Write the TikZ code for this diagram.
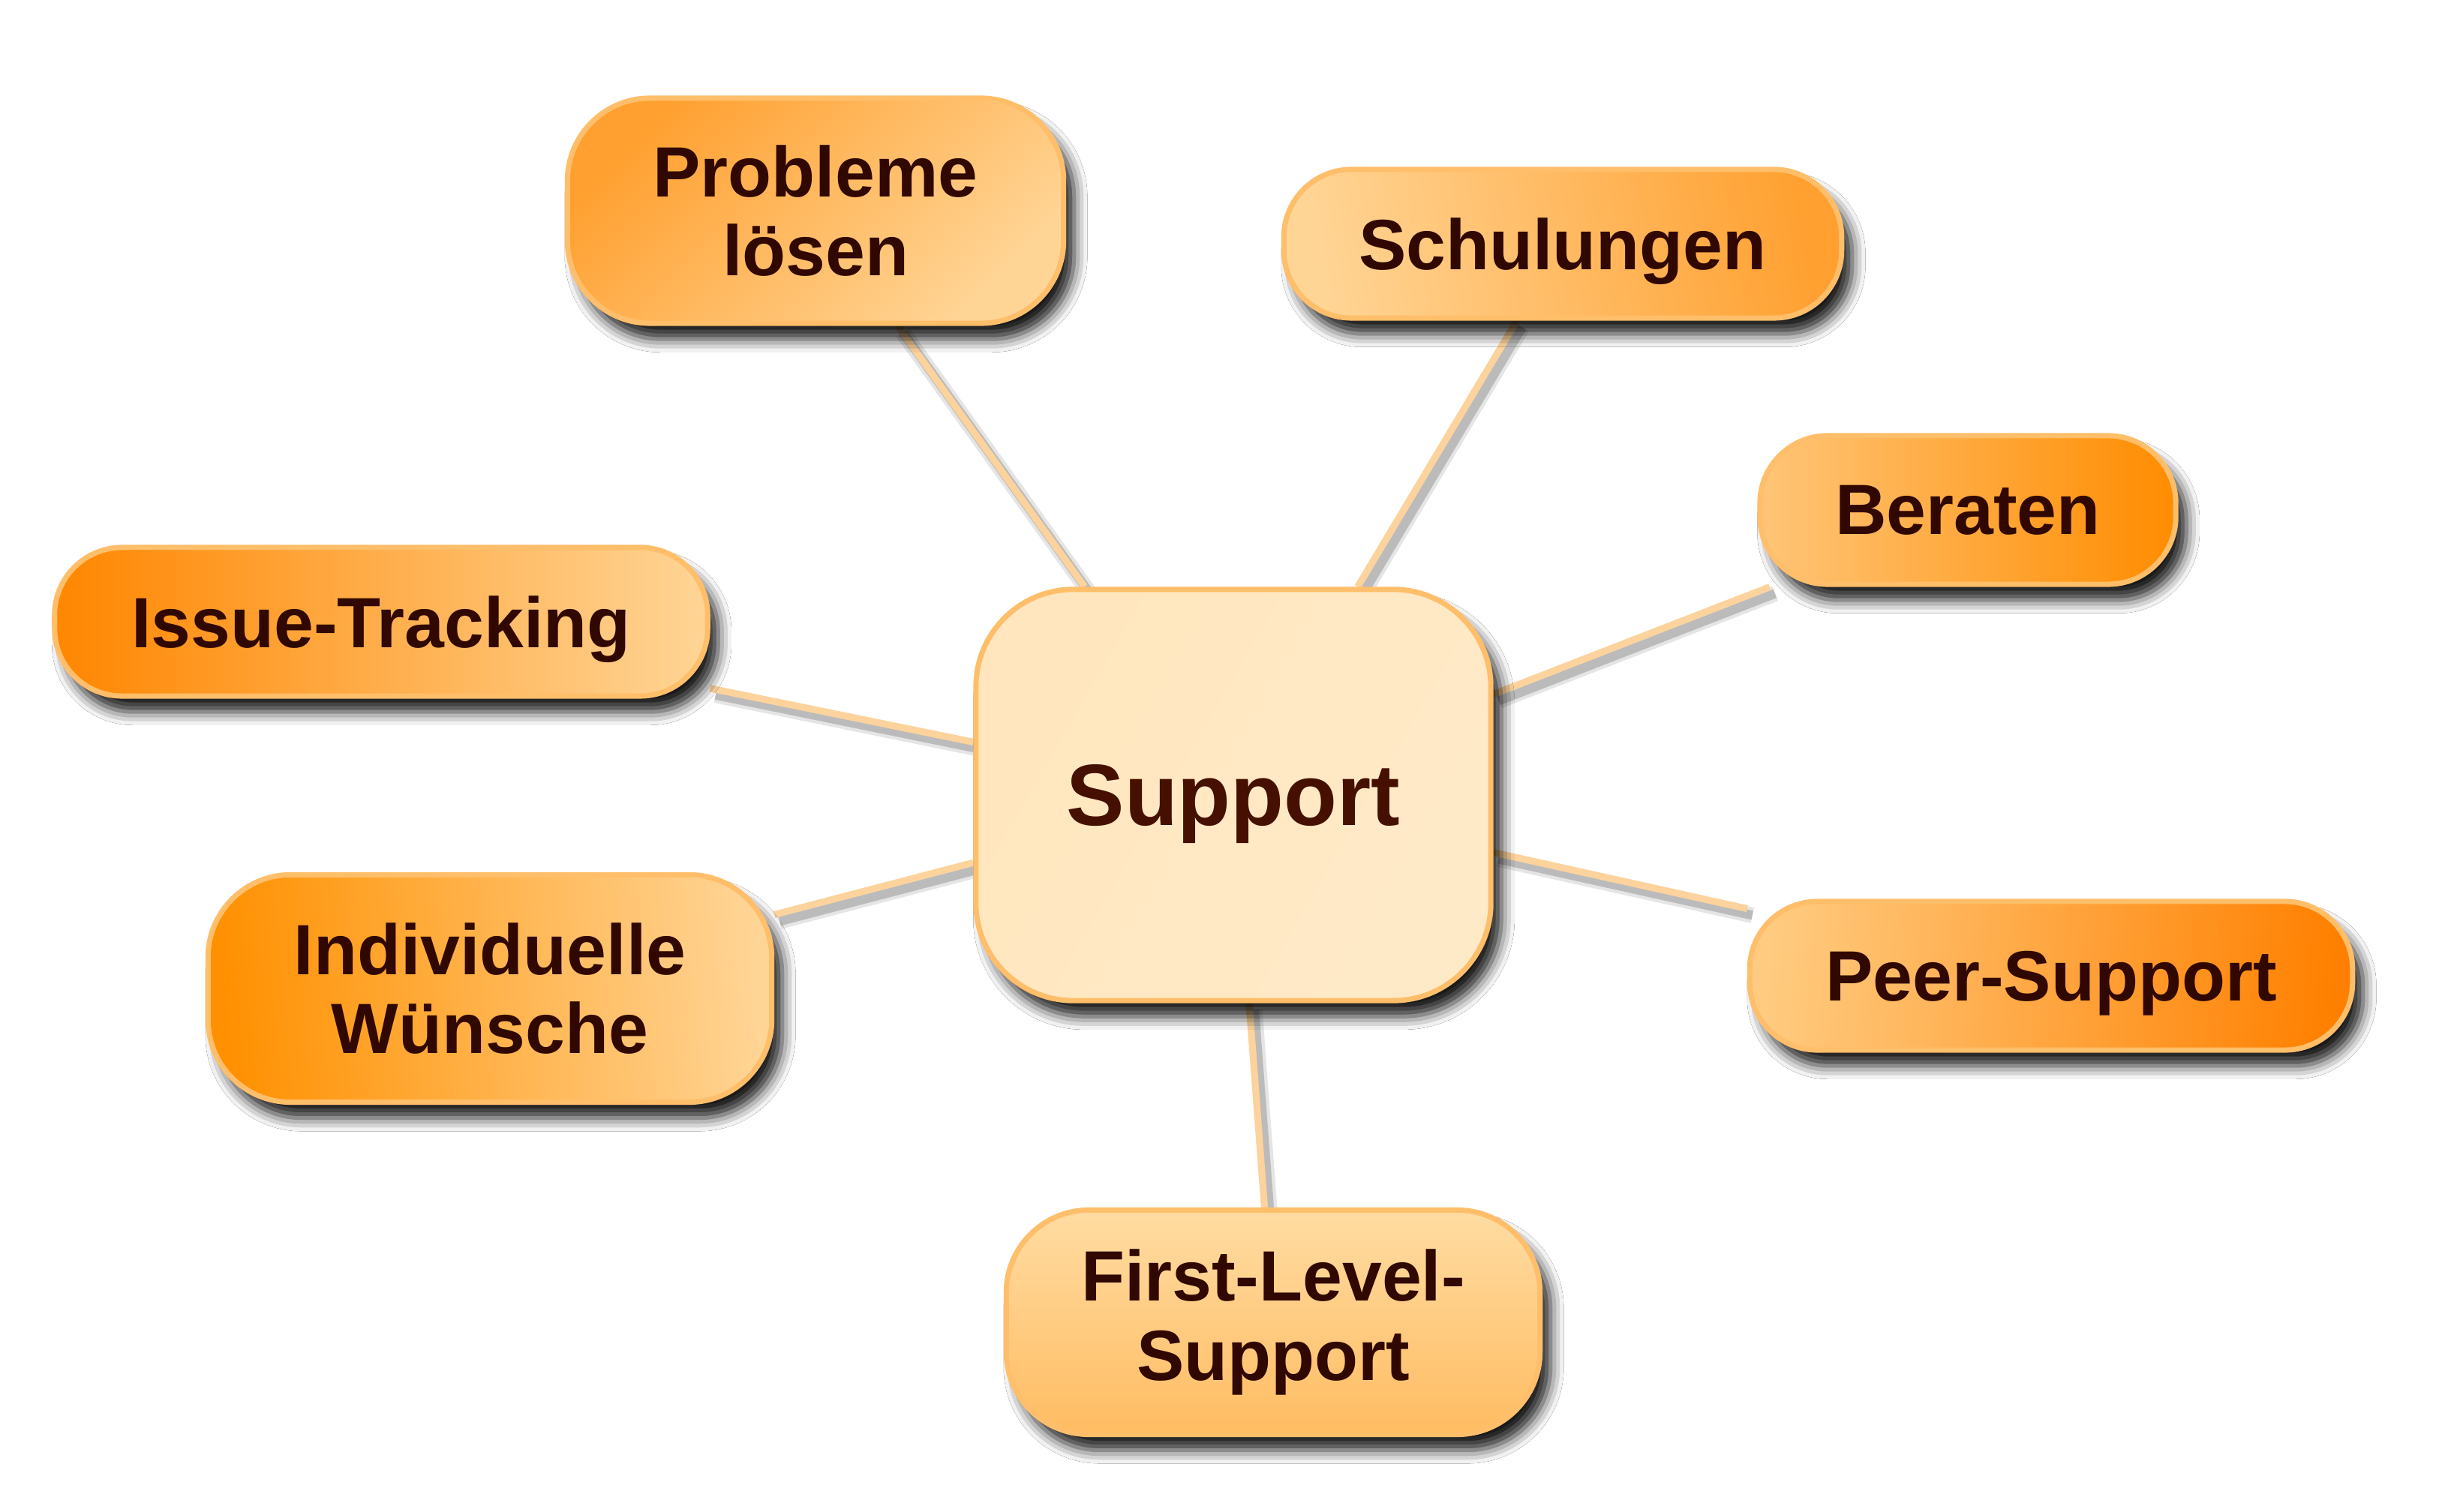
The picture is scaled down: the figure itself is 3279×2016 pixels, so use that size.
\documentclass[tikz,border=0pt]{standalone}
\usepackage{fontspec}
\setmainfont{Liberation Sans}
\usetikzlibrary{shadows.blur}
\pgfdeclarelayer{bg}
\pgfsetlayers{bg,main}
\definecolor{txt}{HTML}{300800}
\definecolor{txtS}{HTML}{461000}
\definecolor{bord}{HTML}{FFBE6A}
\definecolor{conn}{HTML}{FCD39C}
\definecolor{lightO}{HTML}{FFD596}
\definecolor{darkO}{HTML}{FF8600}
\definecolor{midO}{HTML}{FFA030}
\definecolor{supA}{HTML}{FFE6BE}
\definecolor{supB}{HTML}{FFEAC8}
\definecolor{berA}{HTML}{FFC578}
\definecolor{berB}{HTML}{FF8C00}
\definecolor{indA}{HTML}{FF9000}
\definecolor{peerA}{HTML}{FFCB80}
\definecolor{peerB}{HTML}{FF8000}
\definecolor{firA}{HTML}{FFDCA2}
\definecolor{firB}{HTML}{FFBC62}
\begin{document}
\begin{tikzpicture}[x=0.01cm,y=-0.01cm,
  nodebase/.style={draw=bord, line width=2pt, inner sep=0pt, align=center,
    text=txt, font=\fontsize{27}{30}\selectfont\bfseries,
    blur shadow={shadow xshift=4pt, shadow yshift=-6pt, shadow blur radius=5pt, shadow opacity=90}},
  pill/.style={nodebase, rounded corners=0.9cm, minimum height=1.98cm, text depth=0pt},
  tall/.style={nodebase, rounded corners=1.1cm, minimum height=3.0cm},
  centre/.style={nodebase, rounded corners=1.3cm, minimum width=6.86cm, minimum height=5.48cm,
    text=txtS, font=\fontsize{33}{36}\selectfont\bfseries, text depth=0pt},
  link/.style={draw=conn, line width=2.6pt},
  linkshadow/.style={draw=black, line width=6pt, opacity=0.10, transform canvas={xshift=2pt,yshift=-2.5pt}},
  linkshadowin/.style={draw=black, line width=3.5pt, opacity=0.18, transform canvas={xshift=2pt,yshift=-2.5pt}}
]
\useasboundingbox (0,0) rectangle (3279,2016);

% nodes
\node[centre, left color=supA, right color=supB, shading angle=60] (S) at (1644,1060) {Support};
\node[tall, minimum width=6.61cm, left color=midO, right color=lightO, shading angle=45] (P) at (1087,281) {Probleme\\lösen};
\node[pill, minimum width=7.43cm, left color=lightO, right color=midO, shading angle=100] (Sch) at (2083,325) {Schulungen};
\node[pill, minimum width=5.54cm, left color=berA, right color=berB, shading angle=90] (B) at (2623,680) {Beraten};
\node[pill, minimum width=8.70cm, left color=darkO, right color=lightO, shading angle=90] (I) at (508,829) {Issue-Tracking};
\node[tall, minimum width=7.51cm, minimum height=3.03cm, left color=indA, right color=lightO, shading angle=95] (W) at (653,1318) {Individuelle\\Wünsche};
\node[pill, minimum width=8.03cm, left color=peerA, right color=peerB, shading angle=85] (Pe) at (2734,1301) {Peer-Support};
\node[tall, minimum width=7.11cm, minimum height=2.99cm, top color=firA, bottom color=firB] (F) at (1697,1763) {First-Level-\\Support};

% background and connectors behind nodes
\begin{pgfonlayer}{bg}
  \fill[white] (0,0) rectangle (3279,2016);
  \foreach \n in {P,Sch,B,I,W,Pe,F}{
    \draw[linkshadow] (S) -- (\n);
    \draw[linkshadowin] (S) -- (\n);
  }
  \foreach \n in {P,Sch,B,I,W,Pe,F}{
    \draw[link] (S) -- (\n);
  }
\end{pgfonlayer}
\end{tikzpicture}
\end{document}
